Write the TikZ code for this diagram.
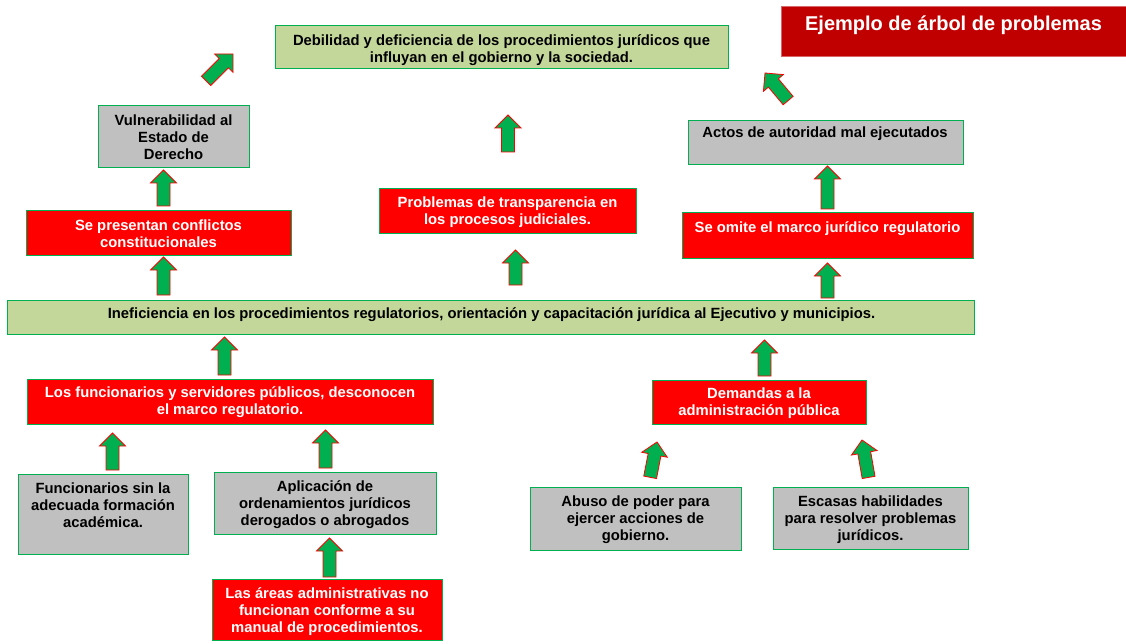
\documentclass[tikz,border=0pt]{standalone}
\usepackage{fontspec}
\setmainfont{Liberation Sans}
\begin{document}
\begin{tikzpicture}[x=1pt,y=-1pt]
\definecolor{lgreen}{RGB}{196,215,155}
\definecolor{bgreen}{RGB}{0,176,80}
\definecolor{boxgray}{RGB}{192,192,192}
\definecolor{dred}{RGB}{192,0,0}
\definecolor{agreen}{RGB}{0,176,80}
\tikzset{
 box/.style={draw=bgreen, line width=0.9pt, inner sep=0pt, anchor=north west},
 greenbox/.style={box, fill=lgreen},
 graybox/.style={box, fill=boxgray},
 redbox/.style={box, fill=red},
 txt/.style={inner sep=0pt, anchor=north, align=center, font=\fontsize{14.8}{17}\selectfont\bfseries},
 btxt/.style={txt, text=black},
 wtxt/.style={txt, text=white},
 pics/blockarrow/.style={code={\draw[fill=agreen, draw=red, line width=0.8pt, line join=miter]
   (0,0) -- (13,13) -- (6.5,13) -- (6.5,#1) -- (-6.5,#1) -- (-6.5,13) -- (-13,13) -- cycle;}}
}
\useasboundingbox (0,0) rectangle (1126,644);

% boxes
\node[greenbox, minimum width=453pt, minimum height=43pt] (goal) at (275,25) {};
\node[btxt] (goal-t) at (501.5,33.6) {\strut Debilidad y deficiencia de los procedimientos jurídicos que\\influyan en el gobierno y la sociedad.};

\node[box, fill=dred, draw=dred!60, minimum width=345pt, minimum height=50pt] (ej) at (781,6) {};
\node[inner sep=0pt, anchor=north, text=white, font=\fontsize{20}{23}\selectfont\bfseries] (ej-t) at (953.5,14.4) {\strut Ejemplo de árbol de problemas};

\node[graybox, minimum width=151pt, minimum height=62pt] (vul) at (98,105) {};
\node[btxt] (vul-t) at (173.5,113.6) {\strut Vulnerabilidad al\\Estado de\\Derecho};

\node[graybox, minimum width=275pt, minimum height=44pt] (actos) at (688,120) {};
\node[btxt] (actos-t) at (825,125.6) {\strut Actos de autoridad mal ejecutados};

\node[redbox, minimum width=257pt, minimum height=45pt] (trans) at (379,188) {};
\node[wtxt] (trans-t) at (507.5,195.6) {\strut Problemas de transparencia en\\los procesos judiciales.};

\node[redbox, minimum width=265pt, minimum height=45pt] (conf) at (26,210) {};
\node[wtxt] (conf-t) at (158.5,218.6) {\strut Se presentan conflictos\\constitucionales};

\node[redbox, minimum width=291pt, minimum height=46pt] (omite) at (682,212) {};
\node[wtxt] (omite-t) at (827.5,220.6) {\strut Se omite el marco jurídico regulatorio};

\node[greenbox, minimum width=967pt, minimum height=34pt] (inef) at (7,300) {};
\node[btxt] (inef-t) at (491.5,306.6) {\strut Ineficiencia en los procedimientos regulatorios, orientación y capacitación jurídica al Ejecutivo y municipios.};

\node[redbox, minimum width=406pt, minimum height=45pt] (funs) at (27,379) {};
\node[wtxt] (funs-t) at (230,385.6) {\strut Los funcionarios y servidores públicos, desconocen\\el marco regulatorio.};

\node[redbox, minimum width=214pt, minimum height=44pt] (dem) at (652,380) {};
\node[wtxt] (dem-t) at (759,386.6) {\strut Demandas a la\\administración pública};

\node[graybox, minimum width=170pt, minimum height=80pt] (fsin) at (18,474) {};
\node[btxt] (fsin-t) at (103,481.6) {\strut Funcionarios sin la\\adecuada formación\\académica.};

\node[graybox, minimum width=222pt, minimum height=62pt] (apl) at (214,472) {};
\node[btxt] (apl-t) at (325,479.6) {\strut Aplicación de\\ordenamientos jurídicos\\derogados o abrogados};

\node[graybox, minimum width=211pt, minimum height=63pt] (abuso) at (530,487) {};
\node[btxt] (abuso-t) at (635.5,494.6) {\strut Abuso de poder para\\ejercer acciones de\\gobierno.};

\node[graybox, minimum width=195pt, minimum height=62pt] (esc) at (773,487) {};
\node[btxt] (esc-t) at (870.5,494.6) {\strut Escasas habilidades\\para resolver problemas\\jurídicos.};

\node[redbox, minimum width=230pt, minimum height=61pt] (areas) at (212,579) {};
\node[wtxt] (areas-t) at (327,586.6) {\strut Las áreas administrativas no\\funcionan conforme a su\\manual de procedimientos.};

% block arrows
\pic at (163.5,170) {blockarrow=36};
\pic at (508,115) {blockarrow=37};
\pic at (827.5,166) {blockarrow=43};
\pic at (163.5,257) {blockarrow=38};
\pic at (515.5,250) {blockarrow=35};
\pic at (827.5,263) {blockarrow=35};
\pic at (224.5,337) {blockarrow=38};
\pic at (764.5,340) {blockarrow=36};
\pic at (112.5,433) {blockarrow=37};
\pic at (325.5,430) {blockarrow=38};
\pic at (329.5,538) {blockarrow=39};
\pic[rotate=-11] at (657,442) {blockarrow=36};
\pic[rotate=10] at (862,440) {blockarrow=38};
\pic[rotate=-45] at (233,54) {blockarrow=38};
\pic[rotate=40] at (765,73) {blockarrow=36};
\end{tikzpicture}
\end{document}
